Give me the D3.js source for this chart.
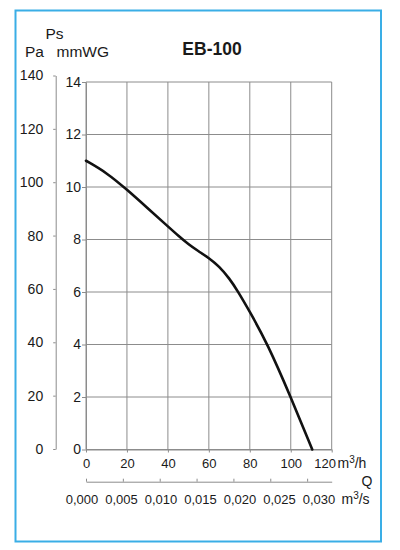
<!DOCTYPE html>
<html>
<head>
<meta charset="utf-8">
<script src="https://cdn.jsdelivr.net/npm/d3@7"></script>
<style>
  body { margin: 0; background: #fff; }
  svg { display: block; font-family: "Liberation Sans", Arial, sans-serif; }
  .grid line { stroke: #8c8c8c; stroke-width: 1; }
  .axis path, .axis line { stroke: #8c8c8c; stroke-width: 1; }
  .axis text { fill: #1a1a1a; }
</style>
</head>
<body>
<svg id="chart" width="400" height="550"></svg>
<script>
// Data (flow in m3/h, static pressure in mmWG)
const flowM3h = [0, 10, 20, 30, 40, 45, 50, 55, 60, 65, 70, 74, 80, 88.5, 100, 110.5];
const pressureMmwg = [11.0, 10.55, 9.9, 9.2, 8.5, 8.15, 7.82, 7.55, 7.3, 6.98, 6.52, 6.05, 5.25, 4.05, 2.0, 0];

const xTicks = [0, 20, 40, 60, 80, 100, 120];
const mmwgTicks = [0, 2, 4, 6, 8, 10, 12, 14];
const paTicks = [0, 20, 40, 60, 80, 100, 120, 140];
const m3sTicks = [0, 0.005, 0.010, 0.015, 0.020, 0.025, 0.030];

const svg = d3.select("#chart");

// blue frame
svg.append("rect")
    .attr("x", 15.5).attr("y", 10.5)
    .attr("width", 365.5).attr("height", 531)
    .attr("fill", "none")
    .attr("stroke", "#3aaee6")
    .attr("stroke-width", 2);

const x = d3.scaleLinear().domain([0, 120]).range([86, 331.7]);
const y = d3.scaleLinear().domain([0, 14]).range([449.5, 82]);
const yPa = d3.scaleLinear().domain([0, 140]).range([449, 75.5]);
// m3/s axis shares the m3/h scale
const xS = d3.scaleLinear().domain([0, 120 / 3600]).range(x.range());

// grid
const grid = svg.append("g").attr("class", "grid");
grid.selectAll(".v").data(xTicks).enter().append("line")
    .attr("x1", d => x(d)).attr("x2", d => x(d))
    .attr("y1", y(14)).attr("y2", y(0));
grid.selectAll(".h").data(mmwgTicks).enter().append("line")
    .attr("x1", x(0)).attr("x2", x(120))
    .attr("y1", d => y(d)).attr("y2", d => y(d));

// mmWG axis
svg.append("g").attr("class", "axis")
    .attr("transform", `translate(${x(0)},0)`)
    .call(d3.axisLeft(y).tickValues(mmwgTicks).tickSize(4).tickPadding(1).tickSizeOuter(0))
    .selectAll("text").style("font-size", "14px");

// Pa axis
svg.append("g").attr("class", "axis")
    .attr("transform", "translate(55.7,0)")
    .call(d3.axisLeft(yPa).tickValues(paTicks).tickSize(2.5).tickPadding(10).tickSizeOuter(0))
    .selectAll("text").style("font-size", "14px");

// m3/h axis
const xAxis = svg.append("g").attr("class", "axis")
    .attr("transform", `translate(0,${y(0)})`)
    .call(d3.axisBottom(x).tickValues(xTicks).tickSize(3).tickPadding(6).tickSizeOuter(0));
xAxis.selectAll("text").style("font-size", "13px")
    .attr("dx", d => d === 120 ? -7 : 0);

// m3/s axis: ticks at true positions
svg.append("g").attr("class", "axis")
    .attr("transform", "translate(0,481.7)")
    .call(d3.axisTop(xS).tickValues(m3sTicks).tickSize(3).tickFormat("").tickSizeOuter(0));

// m3/s labels (spaced evenly as printed, not quite under the ticks)
const comma = d3.formatLocale({decimal: ",", thousands: ".", grouping: [3], currency: ["", ""]}).format(".3f");
const sLab = d3.scalePoint().domain(m3sTicks).range([82, 319]);
svg.append("g").selectAll("text").data(m3sTicks).enter().append("text")
    .attr("x", d => sLab(d)).attr("y", 503.5)
    .attr("text-anchor", "middle")
    .style("font-size", "13px").attr("fill", "#1a1a1a")
    .text(d => comma(d));

// curve
const line = d3.line()
    .x((d, i) => x(flowM3h[i]))
    .y(d => y(d))
    .curve(d3.curveBasis);
svg.append("path")
    .datum(pressureMmwg)
    .attr("d", line)
    .attr("fill", "none")
    .attr("stroke", "#111")
    .attr("stroke-width", 2.6)
    .attr("stroke-linecap", "round");

// labels
const lab = (tx, ty, size, anchor, weight) => svg.append("text")
    .attr("x", tx).attr("y", ty)
    .attr("text-anchor", anchor || "start")
    .style("font-size", size + "px")
    .style("font-weight", weight || "normal")
    .attr("fill", "#1a1a1a");

lab(212, 55, 17.5, "middle", "bold").text("EB-100");
lab(45.5, 39, 15.5).text("Ps");
lab(25, 57, 15.5).text("Pa");
lab(56.5, 57, 15.5).text("mmWG");
const mh = lab(337.5, 468.3, 14);
mh.append("tspan").text("m");
mh.append("tspan").attr("dy", -5).style("font-size", "10px").text("3");
mh.append("tspan").attr("dy", 5).text("/h");
lab(372.5, 485.5, 14, "end").text("Q");
const ms = lab(341.5, 503.5, 14);
ms.append("tspan").text("m");
ms.append("tspan").attr("dy", -5).style("font-size", "10px").text("3");
ms.append("tspan").attr("dy", 5).text("/s");
</script>
</body>
</html>
